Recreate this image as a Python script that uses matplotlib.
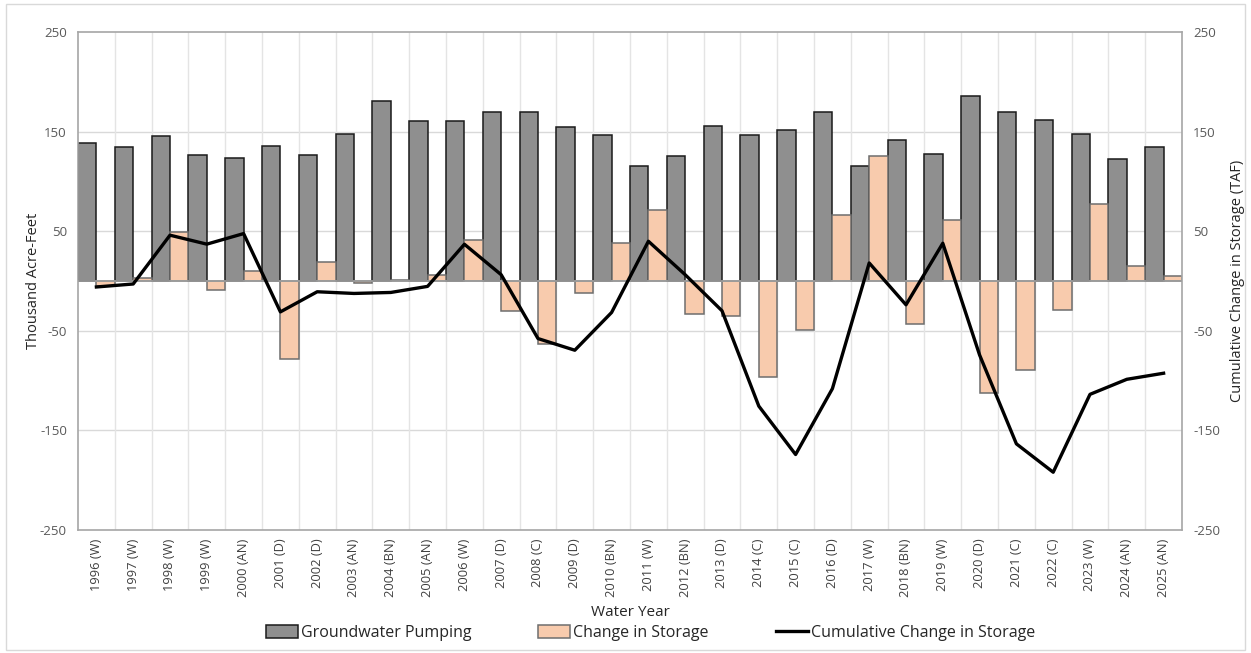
import matplotlib
matplotlib.use('Agg')
import matplotlib.pyplot as plt
import numpy as np
from matplotlib.patches import Patch, Rectangle
from matplotlib.lines import Line2D

plt.rcParams['font.family'] = ['Open Sans', 'DejaVu Sans']
plt.rcParams['axes.unicode_minus'] = False

# Water years with year-type classification
year_labels = ['1996 (W)', '1997 (W)', '1998 (W)', '1999 (W)', '2000 (AN)', '2001 (D)',
               '2002 (D)', '2003 (AN)', '2004 (BN)', '2005 (AN)', '2006 (W)', '2007 (D)',
               '2008 (C)', '2009 (D)', '2010 (BN)', '2011 (W)', '2012 (BN)', '2013 (D)',
               '2014 (C)', '2015 (C)', '2016 (D)', '2017 (W)', '2018 (BN)', '2019 (W)',
               '2020 (D)', '2021 (C)', '2022 (C)', '2023 (W)', '2024 (AN)', '2025 (AN)']

# Thousand acre-feet
pumping = [138.6, 134.2, 146, 126.5, 123.9, 135.5, 126.5, 148, 180.9, 161,
           160.4, 170, 170, 154.4, 147, 115, 125.5, 155.7, 147, 151.7,
           169.5, 115.4, 141.3, 127.5, 185.3, 169.5, 161.7, 147.3, 122.2, 135]
storage_change = [-5, 3, 49, -9.5, 10, -78, 18.7, -2, 1.3, 5.6,
                  41.6, -30.2, -63.4, -11.8, 37.9, 70.8, -33.6, -35.2, -96.4, -49.3,
                  65.8, 125.9, -43, 61.4, -112.2, -89.3, -28.9, 77.1, 14.7, 5]
cumulative = [-6, -3, 46, 37, 47.6, -31, -10.8, -12.5, -11.5, -5.4,
              36.9, 6.3, -57.8, -69.5, -31.6, 39.9, 6.3, -29.9, -125.6, -174.2,
              -108.1, 18.1, -23.9, 37.9, -74.3, -163.5, -192, -113.8, -98.7, -92.6]

y_ticks = [-250, -150, -50, 50, 150, 250]

txt = '#595959'
grid = '#d9d9d9'

fig = plt.figure(figsize=(12.51, 6.53), dpi=100)
ax = fig.add_axes([78 / 1251, 1 - 530 / 653, 1104 / 1251, 498 / 653])

x = np.arange(len(year_labels))
w = 0.5

# gridlines
for y in [-150, -50, 50, 150]:
    ax.axhline(y, color=grid, lw=1, zorder=0)
for xb in x[:-1] + 0.5:
    ax.axvline(xb, color='#e4e4e4', lw=1, zorder=0)

ax.bar(x - w / 2, pumping, w, color='#8f8f8f', edgecolor='#1a1a1a', linewidth=1.1,
       zorder=2, label='Groundwater Pumping')
ax.bar(x + w / 2, storage_change, w, color='#f8cbad', edgecolor='#6e6e6e', linewidth=1.1,
       zorder=2, label='Change in Storage')
ax.axhline(0, color='#a0a0a0', lw=1.2, zorder=3)

ax.set_xlim(-0.5, len(year_labels) - 0.5)
ax.set_ylim(-250, 250)
ax.set_yticks(y_ticks)
ax.set_xticks(x)
ax.set_xticklabels(year_labels, rotation=90, fontsize=9.3, color='#404040')
ax.tick_params(axis='x', length=0, pad=6)
ax.tick_params(axis='y', length=0, labelsize=9.5, labelcolor=txt, pad=8)
for s in ax.spines.values():
    s.set_color('#a6a6a6')
    s.set_linewidth(1.2)
ax.set_ylabel('Thousand Acre-Feet', fontsize=10.5, color='#262626', labelpad=-1)
ax.set_xlabel('Water Year', fontsize=11, color='#262626', labelpad=6)

ax2 = ax.twinx()
ax2.plot(x, cumulative, color='black', lw=2.4, zorder=5)
ax2.set_ylim(-250, 250)
ax2.set_yticks(y_ticks)
ax2.tick_params(axis='y', length=0, labelsize=9.5, labelcolor=txt, pad=8)
for s in ax2.spines.values():
    s.set_visible(False)
ax2.set_ylabel('Cumulative Change in Storage (TAF)', fontsize=10.5, color='#262626', labelpad=7)

handles = [Patch(facecolor='#8f8f8f', edgecolor='#1a1a1a', linewidth=1.1),
           Patch(facecolor='#f8cbad', edgecolor='#6e6e6e', linewidth=1.1),
           Line2D([0], [0], color='black', lw=2.4)]
fig.legend(handles, ['Groundwater Pumping', 'Change in Storage', 'Cumulative Change in Storage'],
           loc='center', bbox_to_anchor=(0.52, 1 - 633 / 653), ncol=3, frameon=False,
           fontsize=11.5, handlelength=2.0, handleheight=0.8, handletextpad=0.2,
           columnspacing=4.2, labelcolor='#262626')

fig.patches.append(Rectangle((6 / 1251, 3 / 653), 1239 / 1251, 646 / 653, transform=fig.transFigure,
                             fill=False, edgecolor='#d9d9d9', lw=1))

fig.savefig('out.png', dpi=100)
